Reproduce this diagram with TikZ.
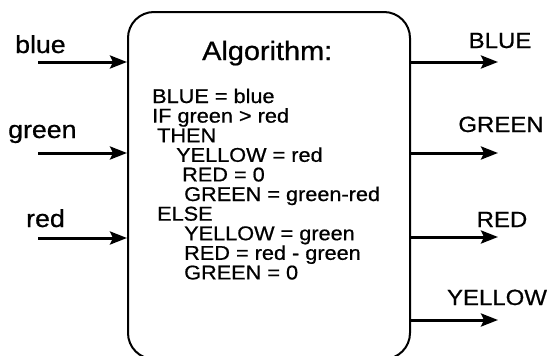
\documentclass[tikz,border=0pt]{standalone}
\usepackage{fontspec}
\setmainfont{Liberation Sans}
\newfontfamily\widesans[FakeStretch=1.09,FakeBold=0.7]{Liberation Sans}
\usetikzlibrary{arrows.meta}
\tikzset{
  algbox/.style={draw, line width=2pt, rounded corners=26pt, inner sep=0pt},
  codeline/.style={anchor=base west, inner sep=0pt, font=\widesans\fontsize{19.9}{21}\selectfont},
  inlabel/.style={anchor=base west, inner sep=0pt, font=\widesans\fontsize{24.5}{26}\selectfont},
  outlabel/.style={anchor=base, inner sep=0pt, font=\widesans\fontsize{22}{24}\selectfont},
  signal/.style={line width=3pt, -{Stealth[length=17pt,width=13pt,inset=3pt]}},
}
\begin{document}
\begin{tikzpicture}[x=1pt,y=-1pt]
\useasboundingbox (0,0) rectangle (555,356);

% algorithm block (its lower edge runs past the page)
\node[algbox, minimum width=282pt, minimum height=347pt] (alg) at (269,185.5) {};
\node[anchor=base west, inner sep=0pt, font=\widesans\fontsize{26.5}{28}\selectfont] (title) at (202,60) {Algorithm:};

% pseudo-code
\node[codeline] (l1)  at (152,103)   {BLUE = blue};
\node[codeline] (l2)  at (152,122.6) {IF green > red};
\node[codeline] (l3)  at (157,142.2) {THEN};
\node[codeline] (l4)  at (176,161.8) {YELLOW = red};
\node[codeline] (l5)  at (182,181.4) {RED = 0};
\node[codeline] (l6)  at (184,201)   {GREEN = green-red};
\node[codeline] (l7)  at (157,220.6) {ELSE};
\node[codeline] (l8)  at (184,240.2) {YELLOW = green};
\node[codeline] (l9)  at (184,259.8) {RED = red - green};
\node[codeline] (l10) at (184,279.4) {GREEN = 0};

% inputs
\node[inlabel] (inb) at (15,53)  {blue};
\node[inlabel] (ing) at (8,138)  {green};
\node[inlabel] (inr) at (26,227) {red};
\coordinate (sb) at (38,62);
\coordinate (sg) at (38,153);
\coordinate (sr) at (38,238);
\draw[signal] (sb) -- (alg.west |- sb);
\draw[signal] (sg) -- (alg.west |- sg);
\draw[signal] (sr) -- (alg.west |- sr);

% outputs
\node[outlabel] (ob) at (500,48)  {BLUE};
\node[outlabel] (og) at (501,132) {GREEN};
\node[outlabel] (orr) at (502,227) {RED};
\node[outlabel] (oy) at (497,305) {YELLOW};
\coordinate (tb) at (498,62);
\coordinate (tg) at (498,153);
\coordinate (tr) at (498,237);
\coordinate (ty) at (498,320);
\draw[signal] (alg.east |- tb) -- (tb);
\draw[signal] (alg.east |- tg) -- (tg);
\draw[signal] (alg.east |- tr) -- (tr);
\draw[signal] (alg.east |- ty) -- (ty);
\end{tikzpicture}
\end{document}
